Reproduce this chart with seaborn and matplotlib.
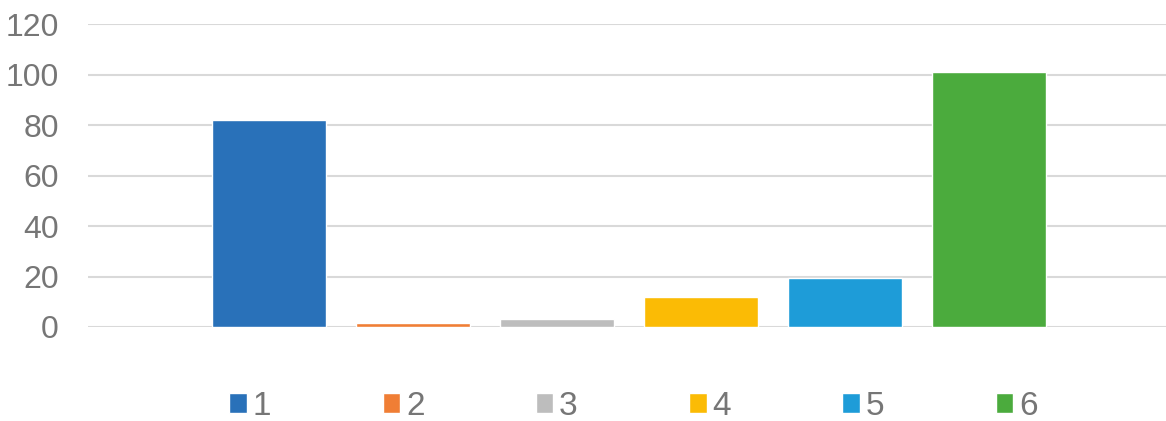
import matplotlib
matplotlib.use("Agg")
import matplotlib.pyplot as plt
import seaborn as sns
import pandas as pd

# series shown as one bar each
series = ["1", "2", "3", "4", "5", "6"]
values = [82, 1.4, 3, 12, 19.3, 101]
colors = ["#2971B9", "#F07E35", "#BDBDBD", "#FBBB05", "#1E9CD8", "#4BAB3D"]
y_ticks = [0, 20, 40, 60, 80, 100, 120]

df = pd.DataFrame({"series": series, "value": values})

sns.set_theme(style="white")
plt.rcParams["font.family"] = ["Liberation Sans", "DejaVu Sans"]

fig = plt.figure(figsize=(11.66, 4.21), dpi=100)
ax = fig.add_axes([88 / 1166, 94 / 421, 1 - 88 / 1166, 303 / 421])

sns.barplot(
    data=df, x="series", y="value", hue="series",
    palette=colors, width=0.79, saturation=1, ax=ax, legend=True,
)

ax.set_xlim(-1.258, 6.228)
ax.set_ylim(0, 120)
ax.set_yticks(y_ticks)
ax.set_xticks([])
ax.set_xlabel("")
ax.set_ylabel("")
ax.yaxis.grid(True, color="#d9d9d9", linewidth=1.5)
ax.set_axisbelow(True)
for s in ax.spines.values():
    s.set_visible(False)
ax.tick_params(axis="y", length=0, pad=21, labelsize=23, labelcolor="#767676")

sns.move_legend(
    ax, "center", bbox_to_anchor=(0.506, -0.261), ncol=6, frameon=False,
    title=None, fontsize=24, labelcolor="#767676",
    handlelength=0.53, handleheight=0.53, handletextpad=0.17,
    columnspacing=3.34, borderpad=0.1,
)

fig.savefig("out.png", dpi=100)
